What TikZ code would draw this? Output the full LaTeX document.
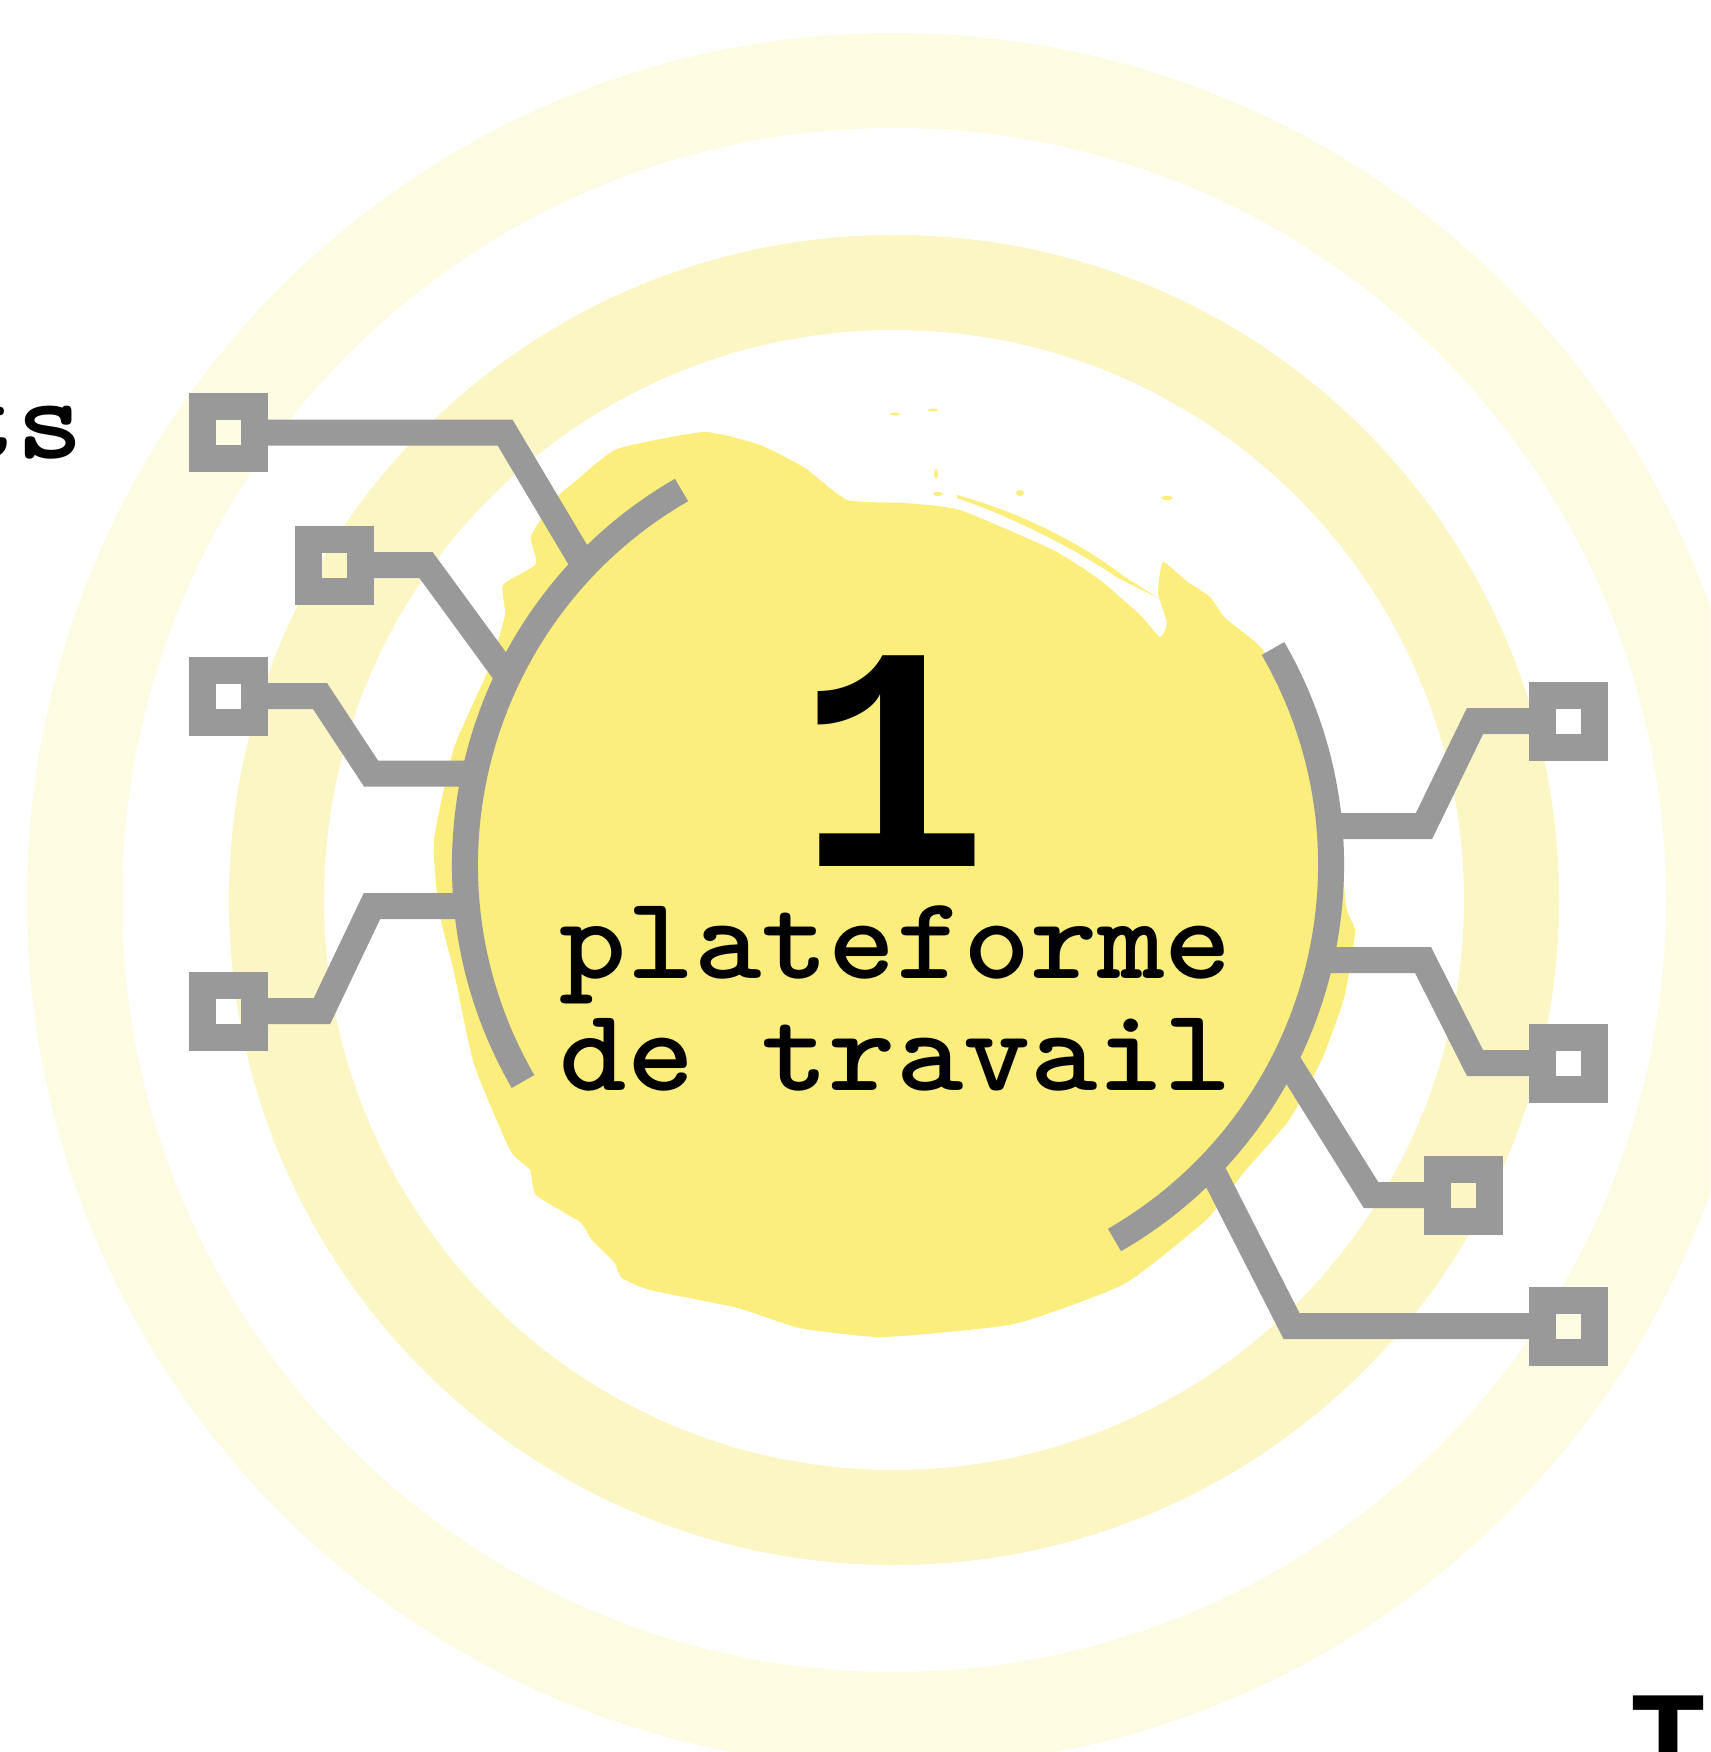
\documentclass[tikz,border=0pt]{standalone}
\usepackage{graphicx}
\usepackage{fontspec}
\newfontfamily\numfont{Liberation Mono}
\definecolor{ringout}{HTML}{FEFBE3}
\definecolor{ringin}{HTML}{FBF6C4}
\definecolor{blob}{HTML}{FBEE7D}
\definecolor{wire}{HTML}{999999}
\newcommand{\wider}[1]{\scalebox{1.085}[1]{#1}}
\tikzset{
  port/.style={draw=wire,line width=27pt,minimum size=52pt,inner sep=0pt,outer sep=0pt,fill=none},
  wireline/.style={draw=wire,line width=26pt,line join=miter,line cap=butt},
  arcline/.style={draw=wire,line width=26pt,line cap=butt},
  label/.style={inner sep=0pt,outer sep=0pt,text=black,font=\fontsize{118}{112}\selectfont\ttfamily\bfseries},
  speck/.style={fill=blob,draw=none}
}
\begin{document}
\begin{tikzpicture}[x=1pt,y=-1pt]
\useasboundingbox (0,0) rectangle (1710,1752);
\clip (0,0) rectangle (1710,1752);
\fill[white] (0,0) rectangle (1710,1752);
% rings
\coordinate (rc) at (894,900);
\draw[ringout,line width=95pt] (rc) circle[radius=819.5];
\draw[ringin,line width=95pt] (rc) circle[radius=617.5];
% painted blob
\fill[blob] plot[smooth cycle,tension=.3] coordinates {
 (704,432) (760,445) (805,468) (847,500) (905,503) (960,510) (1053,550) (1100,580) (1140,615)
 (1160,637) (1167,623) (1158,593) (1163,562) (1185,580) (1210,597) (1225,618) (1263,650) (1300,720) (1335,800)
 (1346,906) (1355,932) (1344,998) (1322,1059) (1289,1120) (1245,1171) (1206,1220)
 (1124,1284) (1014,1324) (883,1337) (800,1328) (738,1308) (650,1290) (622,1278) (614,1262) (592,1240) (580,1222) (536,1195) (530,1170) (510,1150) (474,1064)
 (454,972) (439,911) (434,840) (454,748) (490,666) (505,615) (503,585) (536,564) (531,536)
 (556,498) (577,480) (617,449)};
% brush streak and specks
\fill[blob] (957,495) .. controls (1030,515) and (1090,550) .. (1122,575) -- (1158,598) -- (1118,578) .. controls (1080,552) and (1020,520) .. (957,498) -- cycle;
\fill[speck] (895,414) ellipse[x radius=5,y radius=1.5];
\fill[speck] (933,410) ellipse[x radius=5,y radius=1.5];
\fill[speck] (936,474) ellipse[x radius=2,y radius=5];
\fill[speck] (938,494) ellipse[x radius=5,y radius=2];
\fill[speck] (1020,493) ellipse[x radius=4,y radius=3];
\fill[speck] (1167,498) ellipse[x radius=6,y radius=2];
% arcs
\coordinate (ac) at (898,865);
\draw[arcline] (ac) ++(-120:433) arc[start angle=-120,end angle=-210,radius=433];
\draw[arcline] (ac) ++(-30:433) arc[start angle=-30,end angle=60,radius=433];
% ports
\node[port] (s1) at (228.5,432.5) {};
\node[port] (s2) at (334,565) {};
\node[port] (s3) at (228.5,696) {};
\node[port] (s4) at (228.5,1011) {};
\node[port] (r1) at (1568,721) {};
\node[port] (r2) at (1568,1063) {};
\node[port] (r3) at (1463,1195) {};
\node[port] (r4) at (1568,1326) {};
% connector ends on the arcs
\coordinate (e1) at (580,558.5);
\coordinate (e2) at (505,673);
\coordinate (e3) at (475,773.5);
\coordinate (e4) at (465,906);
\coordinate (f1) at (1331,826);
\coordinate (f2) at (1330,960);
\coordinate (f3) at (1288,1062);
\coordinate (f4) at (1212,1170);
% connectors
\draw[wireline] (s1.east) -- (505,432.5) -- (e1);
\draw[wireline] (s2.east) -- (426,565) -- (e2);
\draw[wireline] (s3.east) -- (320,696) -- (371,773.5) -- (e3);
\draw[wireline] (s4.east) -- (322,1011) -- (372,906) -- (e4);
\draw[wireline] (r1.west) -- (1475,721) -- (1424,826) -- (f1);
\draw[wireline] (r2.west) -- (1475,1063) -- (1423,960) -- (f2);
\draw[wireline] (r3.west) -- (1371,1195) -- (f3);
\draw[wireline] (r4.west) -- (1291.5,1326) -- (f4);
% texts
\node[inner sep=0pt,text=black,font=\fontsize{320}{320}\selectfont\numfont\bfseries,anchor=base] (one) at (893,866) {1};
\node[label,anchor=base] (t1) at (896,978) {\wider{plateforme}};
\node[label,anchor=base] (t2) at (896,1090) {\wider{de travail}};
\node[label,anchor=base east] (ts) at (84,458) {\wider{ts}};
\node[inner sep=0pt,text=black,font=\fontsize{130}{130}\selectfont\numfont\bfseries,anchor=base] (tt) at (1668,1781) {T};
\end{tikzpicture}
\end{document}
